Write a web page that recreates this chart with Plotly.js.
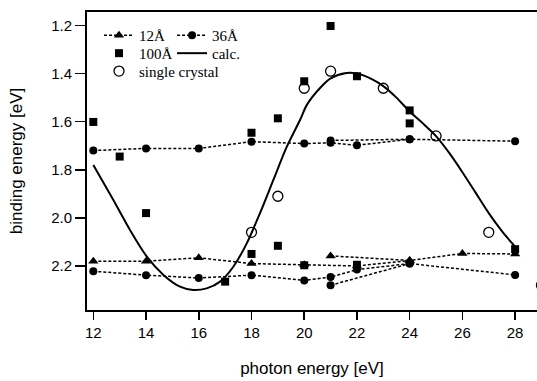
<!DOCTYPE html>
<html><head><meta charset="utf-8">
<script src="https://cdn.plot.ly/plotly-3.0.1.min.js"></script>
<style>html,body{margin:0;padding:0;background:#fff;overflow:hidden}#chart{width:537px;height:381px}</style>
</head><body><div id="chart"></div>
<script>
// 12 Å film (triangles); null separates the branch from 21 eV
const x12A = [12, 14, 16, 18, 20, 22, 24, 26, 28, null, 21, 24];
const y12A = [2.18, 2.18, 2.166, 2.19, 2.195, 2.20, 2.177, 2.148, 2.15, null, 2.158, 2.177];

// 36 Å film (filled circles), upper and lower bands
const x36A = [12, 14, 16, 18, 20, 21, 22, 24, 28, null, 21, 24, null,
              12, 14, 16, 18, 20, 21, 22, 24, 28, null, 21, 24];
const y36A = [1.72, 1.711, 1.711, 1.683, 1.691, 1.688, 1.698, 1.673, 1.681, null, 1.678, 1.673, null,
              2.222, 2.238, 2.25, 2.238, 2.26, 2.246, 2.215, 2.19, 2.237, null, 2.28, 2.19];

// 100 Å film (filled squares)
const x100A = [12, 13, 14, 17, 18, 18, 19, 19, 20, 20, 21, 22, 22, 24, 24, 28];
const y100A = [1.601, 1.745, 1.98, 2.265, 1.646, 2.15, 1.586, 2.116, 1.432, 2.197, 1.202, 1.411, 2.195, 1.553, 1.607, 2.13];

// single crystal (open circles)
const xCrystal = [18, 19, 20, 21, 23, 25, 27, 29];
const yCrystal = [2.06, 1.91, 1.461, 1.39, 1.461, 1.659, 2.06, 2.28];

// calculation (solid curve)
const xCalc = [12.0, 12.76, 13.39, 14.03, 14.66, 15.29, 15.79, 16.30, 16.81, 17.31, 17.82, 18.32, 18.83, 19.34, 19.84,
               20.1, 20.6, 21.0, 21.6, 22.0, 22.6, 23.0, 23.5, 24.0, 24.5, 25.0, 25.5, 26.0, 26.5, 27.0, 27.5, 28.0];
const yCalc = [1.78, 1.926, 2.05, 2.161, 2.237, 2.286, 2.30, 2.293, 2.265, 2.203, 2.106, 1.981, 1.842, 1.704, 1.593,
               1.53, 1.46, 1.42, 1.398, 1.40, 1.425, 1.452, 1.50, 1.558, 1.607, 1.66, 1.73, 1.81, 1.895, 1.98, 2.055, 2.12];

const xTicks = [12, 14, 16, 18, 20, 22, 24, 26, 28];
const yTicks = [1.2, 1.4, 1.6, 1.8, 2.0, 2.2];

const dashed = {color: '#000', width: 1.5, dash: '3px,2px'};
const serif = {family: 'Liberation Serif, Times New Roman, serif', size: 15, color: '#000'};

const traces = [
  {x: xCalc, y: yCalc, mode: 'lines', name: 'calc.', line: {color: '#000', width: 2, shape: 'spline', smoothing: 0.8},
   legend: 'legend4'},
  {x: x12A, y: y12A, mode: 'lines+markers', name: '12Å', line: dashed, connectgaps: false,
   marker: {symbol: 'triangle-up', size: 9, color: '#000'}, legend: 'legend'},
  {x: x36A, y: y36A, mode: 'lines+markers', name: '36Å', line: dashed, connectgaps: false,
   marker: {symbol: 'circle', size: 8, color: '#000'}, legend: 'legend2'},
  {x: x100A, y: y100A, mode: 'markers', name: '100Å',
   marker: {symbol: 'square', size: 8, color: '#000'}, legend: 'legend3'},
  {x: xCrystal, y: yCrystal, mode: 'markers', name: 'single crystal',
   marker: {symbol: 'circle-open', size: 10, color: '#000', line: {width: 1.3, color: '#000'}}, legend: 'legend5'}
];

function leg(x, y) {
  return {x: x, y: y, xref: 'paper', yref: 'paper', xanchor: 'left', yanchor: 'middle',
          bgcolor: 'rgba(0,0,0,0)', borderwidth: 0, font: serif};
}

const layout = {
  width: 537, height: 381,
  margin: {l: 87, r: 0, t: 12, b: 71},
  paper_bgcolor: '#fff', plot_bgcolor: '#fff',
  font: {family: 'Liberation Sans, Arial, sans-serif', color: '#000'},
  showlegend: true,
  legend: leg(0.0267, 0.921),
  legend2: leg(0.189, 0.921),
  legend3: leg(0.0267, 0.861),
  legend4: leg(0.189, 0.861),
  legend5: leg(0.0267, 0.801),
  xaxis: {
    range: [11.76, 28.83], tickvals: xTicks, ticktext: xTicks.map(String),
    showgrid: false, zeroline: false,
    showline: true, linecolor: '#000', linewidth: 2, mirror: true,
    ticks: 'outside', ticklen: 8, tickwidth: 1.5, tickcolor: '#000',
    tickfont: {size: 15, family: 'Liberation Sans, Arial, sans-serif'},
    title: {text: 'photon energy [eV]', font: {size: 17, family: 'Liberation Sans, Arial, sans-serif'}, standoff: 22}
  },
  yaxis: {
    range: [2.383, 1.1439], tickvals: yTicks, ticktext: yTicks.map(v => v.toFixed(1)),
    showgrid: false, zeroline: false,
    showline: true, linecolor: '#000', linewidth: 2, mirror: false,
    ticks: 'outside', ticklen: 10, tickwidth: 1.5, tickcolor: '#000',
    tickfont: {size: 15, family: 'Liberation Sans, Arial, sans-serif'},
    title: {text: 'binding energy [eV]', font: {size: 17, family: 'Liberation Sans, Arial, sans-serif'}, standoff: 24}
  }
};

Plotly.newPlot('chart', traces, layout, {displayModeBar: false, staticPlot: true});
</script></body></html>
